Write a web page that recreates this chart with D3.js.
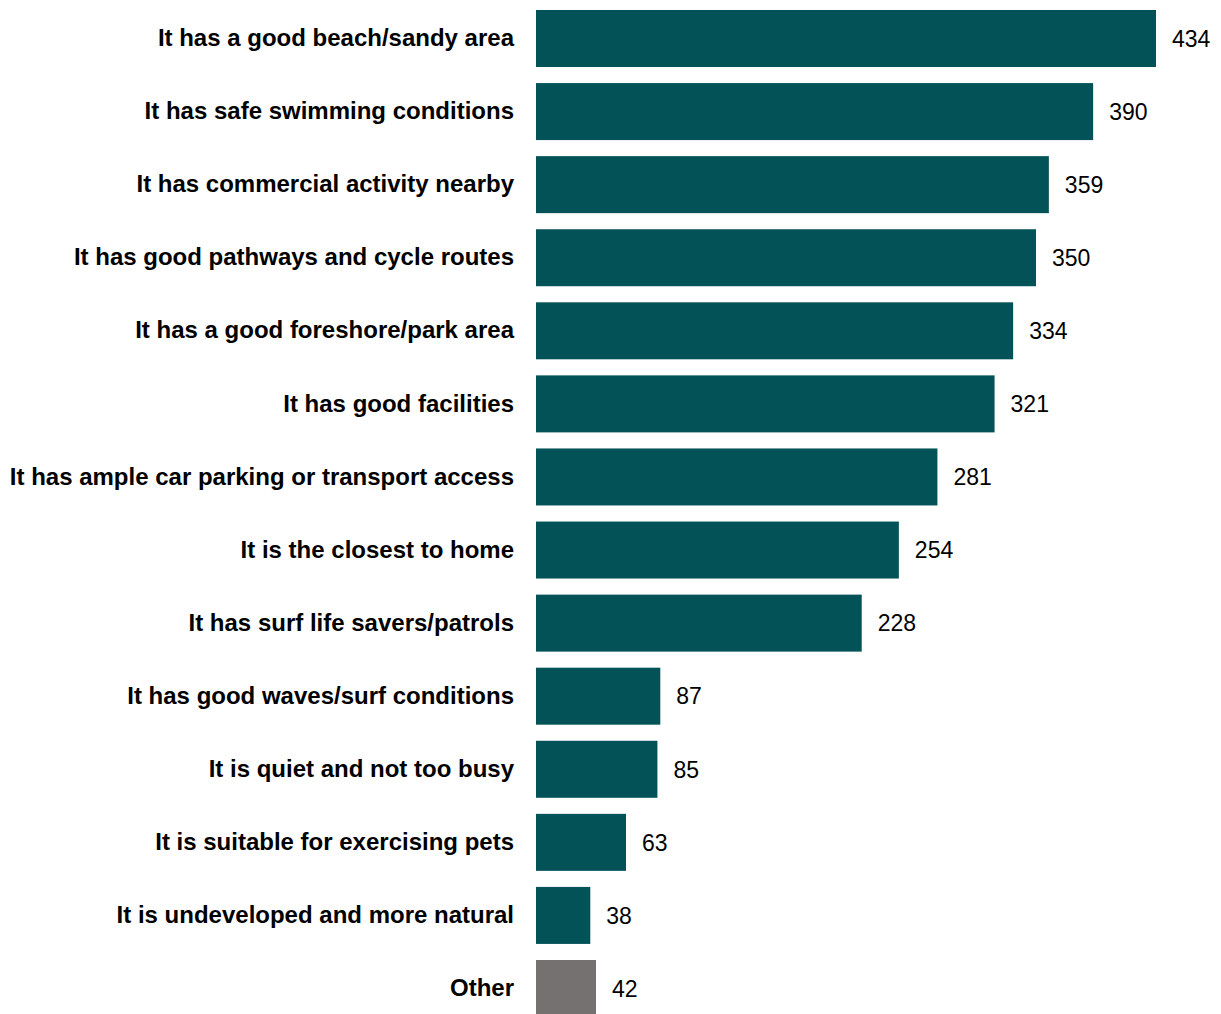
<!DOCTYPE html>
<html><head><meta charset="utf-8">
<script src="https://cdn.jsdelivr.net/npm/d3@7"></script>
<style>html,body{margin:0;padding:0;background:#fff;}svg{display:block;}</style>
</head><body>
<svg id="chart" width="1221" height="1014"></svg>
<script>
const categories = [
  "It has a good beach/sandy area",
  "It has safe swimming conditions",
  "It has commercial activity nearby",
  "It has good pathways and cycle routes",
  "It has a good foreshore/park area",
  "It has good facilities",
  "It has ample car parking or transport access",
  "It is the closest to home",
  "It has surf life savers/patrols",
  "It has good waves/surf conditions",
  "It is quiet and not too busy",
  "It is suitable for exercising pets",
  "It is undeveloped and more natural",
  "Other"
];
const values = [434, 390, 359, 350, 334, 321, 281, 254, 228, 87, 85, 63, 38, 42];
const highlight = ["Other"];

const data = categories.map((c, i) => ({cat: c, val: values[i]}));
const svg = d3.select("#chart");
const x0 = 536;
const x = d3.scaleLinear().domain([0, 434]).range([x0, 1156]);
const y = d3.scaleBand().domain(categories).range([10, 1017]).paddingInner(0.22).paddingOuter(0);

svg.selectAll("rect.bar").data(data).join("rect")
  .attr("class", "bar")
  .attr("x", x(0))
  .attr("y", d => y(d.cat))
  .attr("width", d => x(d.val) - x(0))
  .attr("height", y.bandwidth())
  .attr("fill", d => highlight.includes(d.cat) ? "#767171" : "#035257");

svg.selectAll("text.lab").data(data).join("text")
  .attr("class", "lab")
  .attr("x", 514)
  .attr("y", d => y(d.cat) + y.bandwidth() / 2)
  .attr("dy", "0.32em")
  .attr("text-anchor", "end")
  .attr("font-family", "Liberation Sans, Arial, sans-serif")
  .attr("font-weight", "bold")
  .attr("font-size", 24)
  .attr("fill", "#000")
  .text(d => d.cat);

svg.selectAll("text.val").data(data).join("text")
  .attr("class", "val")
  .attr("x", d => x(d.val) + 16)
  .attr("y", d => y(d.cat) + y.bandwidth() / 2)
  .attr("dy", "0.36em")
  .attr("font-family", "Liberation Sans, Arial, sans-serif")
  .attr("font-size", 23)
  .attr("fill", "#000")
  .text(d => d.val);
</script>
</body></html>
